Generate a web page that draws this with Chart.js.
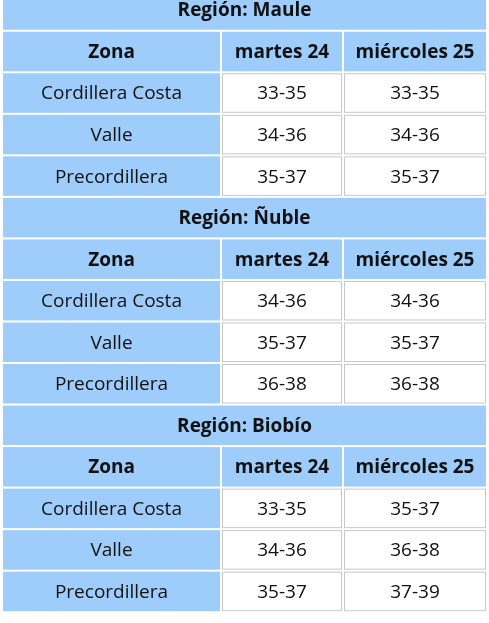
<!DOCTYPE html><html><head><meta charset="utf-8">
<script src="https://cdn.jsdelivr.net/npm/chart.js@4"></script>
<style>html,body{margin:0;padding:0;background:#fff}#w{width:489px;height:623px}</style></head><body>
<div id="w"><canvas id="c"></canvas></div>
<script>
const regions = ["Región: Maule","Región: Ñuble","Región: Biobío"];
const headers = ["Zona","martes 24","miércoles 25"];
const zones = ["Cordillera Costa","Valle","Precordillera"];
const martes24 = [["33-35","34-36","35-37"],["34-36","35-37","36-38"],["33-35","34-36","35-37"]];
const miercoles25 = [["33-35","34-36","35-37"],["34-36","35-37","36-38"],["35-37","36-38","37-39"]];

const colEdges=[2,221,343,487];
const blue='#9fcdfb';
const tablePlugin={id:'table',afterDraw(chart){
  const ctx=chart.ctx,xs=chart.scales.x,ys=chart.scales.y;
  const rowH=(r)=>[ys.getPixelForValue(r),ys.getPixelForValue(r+1)];
  function cell(c0,c1,r,text,bg,bold,border){
    const x0=xs.getPixelForValue(colEdges[c0]),x1=xs.getPixelForValue(colEdges[c1]);
    const [y0,y1]=rowH(r);
    ctx.fillStyle=bg;ctx.fillRect(x0+1,y0+1,x1-x0-2,y1-y0-2);
    if(border){ctx.strokeStyle='#c8c8c8';ctx.lineWidth=1;ctx.strokeRect(x0+1.5,y0+1.5,x1-x0-3,y1-y0-3);}
    ctx.fillStyle='#111';ctx.font=(bold?'bold ':'')+'19px "Open Sans"';
    ctx.textAlign='center';ctx.textBaseline='middle';
    ctx.fillText(text,(x0+x1)/2,(y0+y1)/2+1);
  }
  ctx.save();
  regions.forEach((reg,g)=>{
    const b=g*5;
    cell(0,3,b,reg,blue,true,false);
    headers.forEach((h,i)=>cell(i,i+1,b+1,h,blue,true,false));
    zones.forEach((z,k)=>{
      cell(0,1,b+2+k,z,blue,false,false);
      cell(1,2,b+2+k,martes24[g][k],'#fff',false,true);
      cell(2,3,b+2+k,miercoles25[g][k],'#fff',false,true);
    });
  });
  ctx.restore();
}};
new Chart(document.getElementById('c'),{type:'scatter',data:{datasets:[{data:[]}]},
 options:{responsive:true,maintainAspectRatio:false,animation:false,layout:{padding:0},
 plugins:{legend:{display:false},tooltip:{enabled:false}},
 scales:{x:{type:'linear',min:0,max:489,display:false},y:{type:'linear',min:0.26,max:15.26,reverse:true,display:false}}},
 plugins:[tablePlugin]});
</script></body></html>
